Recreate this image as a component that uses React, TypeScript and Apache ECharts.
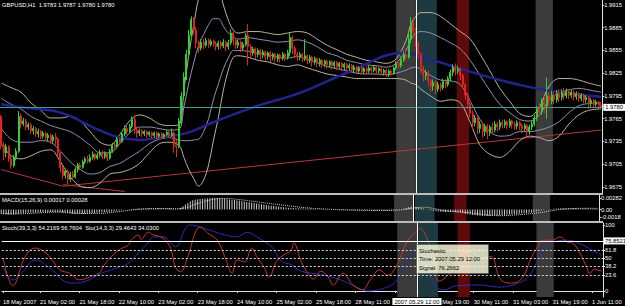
import React, { useEffect, useRef } from "react";
import * as echarts from "echarts";

// ---------- DATA (prices in pips above BASE) ----------
const BASE = 1.97;
const PIP = 0.0001;
const symbolName = "GBPUSD,H1";

// [open, close, low, high] in pips above 1.9700, one row per H1 bar
const candlesPips: number[][] = [
  [68,30,25,70],[30,20,10,35],[20,28,14,32],[28,12,8,30],[12,3,-1,15],[3,14,1,17],[14,22,10,26],[22,68,20,75],
  [68,58,52,72],[58,62,55,66],[62,54,50,65],[54,57,50,60],[57,49,45,59],[49,52,44,55],[52,45,41,54],[45,48,40,52],
  [48,42,38,50],[42,46,39,49],[46,40,36,48],[40,43,35,46],[43,36,32,45],[36,41,33,44],[41,38,30,46],[38,20,16,40],
  [20,0,-6,22],[0,-10,-15,3],[-10,-4,-14,-1],[-4,-15,-22,-2],[-15,-8,-18,-5],[-8,-12,-16,-4],[-12,-2,-14,1],[-2,4,-6,7],
  [4,1,-3,7],[1,8,-1,11],[8,12,5,15],[12,9,6,16],[9,14,7,18],[14,18,11,22],[18,13,10,20],[13,17,11,20],
  [17,20,14,24],[20,15,12,23],[15,19,12,22],[19,13,9,21],[13,22,11,25],[22,30,20,33],[30,28,24,34],[28,38,26,41],
  [38,35,31,40],[35,45,33,48],[45,52,42,56],[52,48,44,55],[48,55,46,58],[55,64,52,68],[64,50,45,70],[50,46,40,53],
  [46,49,42,52],[49,45,41,51],[45,48,42,50],[48,44,40,50],[44,47,41,49],[47,43,39,48],[43,46,40,48],[46,42,38,48],
  [42,45,39,47],[45,41,38,47],[41,44,39,46],[44,47,42,50],[47,43,40,49],[43,46,41,52],[46,30,20,48],[30,28,14,38],
  [28,62,26,66],[62,95,58,100],[95,120,90,126],[120,150,116,156],[150,175,145,182],[175,196,170,200],[196,182,176,199],[182,165,158,186],
  [165,158,152,168],[158,166,155,170],[166,162,157,170],[162,168,159,172],[168,163,158,171],[163,167,160,170],[167,164,160,169],[164,160,155,167],
  [160,165,156,168],[165,161,157,168],[161,166,158,170],[166,160,154,168],[160,165,156,169],[165,178,162,183],[178,168,162,180],[168,162,157,170],
  [162,166,158,169],[166,158,153,168],[158,163,155,166],[163,175,160,178],[175,160,135,190],[160,152,146,163],[152,157,148,160],[157,150,144,159],
  [150,155,146,158],[155,149,143,157],[149,153,145,156],[153,147,142,155],[147,152,143,154],[152,146,140,154],[146,150,142,152],[150,144,139,152],
  [144,149,140,151],[149,145,139,151],[145,150,142,153],[150,146,141,152],[146,152,143,156],[152,172,148,178],[172,158,150,175],[158,150,145,161],
  [150,146,141,153],[146,150,142,153],[150,145,140,152],[145,148,141,170],[148,142,137,150],[142,146,138,149],[146,140,134,148],[140,144,136,147],
  [144,138,133,146],[138,142,134,145],[142,137,132,144],[137,141,133,143],[141,136,131,143],[136,140,132,142],[140,135,130,142],[135,139,131,141],
  [139,134,129,141],[134,138,131,140],[138,133,128,140],[133,137,129,139],[137,132,127,139],[132,135,128,138],[135,130,126,137],[130,133,126,136],
  [133,128,124,135],[128,132,125,134],[132,127,123,134],[127,131,124,133],[131,128,124,134],[128,132,125,135],[132,129,125,134],[129,133,126,136],
  [133,128,124,135],[128,131,125,133],[131,126,122,133],[126,129,122,131],[129,124,120,131],[124,128,120,130],[128,125,121,130],[125,132,123,134],
  [132,138,129,141],[138,135,131,142],[135,143,132,147],[143,150,140,154],[150,146,141,158],[146,170,144,178],[170,192,165,199],[192,180,172,196],
  [180,165,160,185],[165,150,144,168],[150,132,125,153],[132,122,114,135],[122,126,116,130],[126,115,108,129],[115,108,100,118],[108,113,102,117],
  [113,104,97,116],[104,110,100,114],[110,106,101,113],[106,114,103,118],[114,110,105,117],[110,118,107,121],[118,126,114,130],[126,133,121,137],
  [133,128,122,138],[128,131,124,135],[131,122,116,133],[122,110,106,124],[110,96,90,112],[96,84,78,98],[84,72,66,87],[72,60,52,76],
  [60,66,55,70],[66,52,44,68],[52,58,46,62],[58,48,40,60],[48,55,42,58],[55,46,38,58],[46,54,42,57],[54,50,44,60],
  [50,58,47,62],[58,54,48,61],[54,60,50,64],[60,57,52,64],[57,61,53,64],[61,56,51,63],[56,62,53,65],[62,58,52,64],
  [58,55,50,61],[55,60,51,63],[60,56,50,62],[56,52,46,58],[52,56,48,59],[56,48,40,58],[48,54,44,57],[54,58,50,62],
  [58,66,55,70],[66,78,62,82],[78,74,68,85],[74,88,70,92],[88,82,72,95],[82,95,65,119],[95,88,82,100],[88,96,84,102],
  [96,90,84,100],[90,98,86,103],[98,93,87,104],[93,99,89,104],[99,95,90,106],[95,101,92,105],[101,96,91,104],[96,100,92,103],
  [100,94,89,102],[94,98,90,101],[98,92,87,100],[92,96,88,99],[96,90,85,98],[90,93,86,96],[93,85,78,95],[85,89,80,92],
  [89,84,79,91],[84,87,81,90],[87,83,79,89],[83,80,80,87]
];

// MACD(15,26,9) main histogram, in units of 0.00001, one per bar
const macdHist = [
  -110,-115,-118,-120,-122,-120,-115,-100,-90,-85,-80,-78,-75,
  -72,-70,-68,-66,-65,-64,-63,-62,-62,-60,-58,-60,
  -70,-80,-90,-98,-104,-108,-110,-110,-108,-105,-100,-95,-90,-84,-78,-72,
  -68,-64,-60,-55,-48,-40,-32,-24,-16,-8,0,6,12,18,22,24,
  26,27,28,28,28,27,27,26,25,25,24,24,24,18,
  12,20,45,80,120,160,200,225,240,250,258,265,270,274,278,280,282,280,276,270,
  262,254,246,238,230,222,213,204,196,186,176,167,158,148,139,130,121,112,103,95,87,80,72,64,57,50,44,
  40,37,34,31,28,26,24,21,18,15,12,10,8,6,4,2,0,-2,-4,-6,-8,-10,-12,-13,-14,-15,-16,-17,-18,-18,
  -19,-20,-20,-21,-22,-22,-23,-24,-24,-25,-24,-20,-14,
  -6,4,14,28,44,62,70,68,60,48,
  36,24,10,-4,-18,-30,-40,-50,-56,-60,-62,-62,-60,-60,-62,-68,-78,-90,-102,-114,
  -124,-134,-142,-148,-152,-155,-156,-156,-155,-152,
  -148,-144,-140,-136,-131,-126,-121,-116,-111,-106,-101,-96,-92,-88,-80,-70,-58,-46,-34,-22,
  -10,0,8,14,20,24,27,29,30,31,31,31,30,29,28,27,26,25,24,22,20,19,17
];
// MACD signal line [bar, value in 0.00001]
const macdSignal = [
  [0,-100],[8,-105],[16,-80],[24,-63],[32,-95],[40,-95],[48,-50],[56,5],[64,26],[72,20],[76,60],[80,150],
  [84,220],[88,265],[92,272],[96,250],[100,222],[104,190],[108,158],[112,128],[116,98],[120,70],[124,45],
  [128,25],[132,12],[136,0],[140,-10],[144,-16],[148,-19],[152,-22],[156,-23],[160,-20],[164,0],[168,40],
  [172,55],[176,30],[180,-20],[184,-50],[188,-65],[192,-90],[196,-120],[200,-145],[204,-150],[208,-138],
  [212,-120],[216,-100],[220,-70],[224,-30],[228,5],[232,22],[236,29],[240,30],[243,28]
];

// Bollinger-style envelopes read at these bars (pips above 1.9700)
const bandBars = [0,4,8,12,16,20,24,28,32,36,40,44,48,52,56,60,64,68,72,74,76,78,80,82,84,86,88,90,92,94,96,100,104,108,112,116,120,124,128,132,136,140,144,148,152,156,160,164,166,168,170,174,178,182,186,190,194,198,202,206,210,214,218,222,226,230,234,238,243];
const outerUpper = [112,106,100,86,76,66,66,68,62,48,34,30,44,62,70,66,58,56,57,103,149,189,224,240,250,250,240,215,195,182,178,180,180,178,176,178,180,178,170,162,156,150,146,142,140,138,144,168,190,200,205,205,200,190,180,170,150,128,105,88,72,68,80,108,118,118,116,112,108];
const outerLower = [32,16,12,16,22,24,8,-12,-24,-26,-20,-8,-6,-2,6,20,32,34,30,14,-2,-14,-24,-16,4,37,67,103,129,146,148,146,142,140,136,134,136,132,128,124,122,120,118,118,118,118,118,116,112,110,104,95,88,90,86,60,30,18,14,22,36,42,40,36,42,58,70,76,78];
const innerUpper = [92,84,78,68,62,56,52,48,40,30,20,20,32,46,54,54,52,50,51,80,112,139,162,176,189,197,197,187,178,173,170,172,170,168,166,167,169,166,160,152,148,142,139,136,135,133,138,155,170,178,180,178,172,165,157,142,122,102,84,73,64,62,70,90,99,103,105,103,100];
const innerLower = [52,38,34,34,36,34,22,8,-2,-8,-6,2,6,14,22,32,38,40,37,36,36,37,38,48,65,91,111,131,145,155,155,154,151,150,146,145,147,143,139,134,131,128,125,124,124,123,125,129,132,133,130,122,116,115,110,88,64,48,42,43,48,48,50,54,61,73,82,85,86];
// slow moving average [bar, pips]
const maSlow = [[0,84],[8,80],[24,73],[37,54],[47,41],[56,37],[64,40],[75,46],[85,59],[102,80],[121,99],[141,127],[163,152],[175,142],[188,129],[202,116],[215,106],[226,100],[243,94]];
// trend lines [bar, pips]
const trendLines = [
  [[0,-2],[25,-24]],
  [[25,-24],[243,50]],
  [[25,-22],[50,-31]]
];
const hLinePrice = 1.978;

// Stochastics [bar, value]
const sto14 = [[0,50],[4,8],[9,52],[13,65],[17,59],[20,47],[23,32],[27,27],[31,17],[35,21],[39,27],[41,39],[44,52],[47,62],[51,70],[52,77],[55,85],[56,78],[59,89],[61,85],[65,80],[68,65],[70,36],[72,29],[75,52],[78,88],[80,97],[83,88],[87,77],[90,52],[93,27],[95,47],[98,44],[101,65],[103,52],[106,36],[108,21],[111,45],[114,55],[117,62],[118,73],[121,45],[124,25],[126,18],[129,30],[132,21],[134,9],[138,27],[142,9],[146,2],[149,17],[153,32],[156,24],[158,28],[161,48],[164,75],[167,88],[169,95],[172,80],[175,40],[177,15],[182,30],[186,55],[190,60],[194,50],[198,52],[202,17],[207,12],[211,21],[214,47],[217,67],[219,77],[223,77],[226,82],[229,74],[231,73],[234,58],[237,35],[238,26],[240,33],[242,31],[243,30]];
const stoch39 = [[0,36],[4,17],[8,29],[13,47],[20,32],[24,17],[28,12],[33,14],[40,27],[44,32],[51,42],[55,58],[59,73],[61,82],[65,82],[70,67],[74,95],[76,100],[84,92],[90,85],[95,82],[99,89],[103,82],[109,67],[113,45],[117,40],[121,30],[129,25],[137,17],[144,5],[148,0],[156,6],[160,17],[165,55],[169,60],[171,40],[174,20],[176,6],[179,2],[184,8],[194,9],[201,6],[207,9],[213,21],[217,47],[219,67],[223,74],[229,77],[234,72],[239,62],[243,54]];
const stochLevels = [23.6, 38.2, 50, 61.8];

// axes
const priceTicks = [1.9675, 1.9705, 1.9735, 1.9765, 1.9795, 1.9825, 1.9855, 1.9885, 1.9915];
const macdTicks = [-0.0018, 0, 0.00282];
const macdTickTexts = ["-0.0018", "0.00", "0.00282"];
const stochTicks = [0, 23.6, 38.2, 50, 61.8, 100];
const xTickBars = [0, 15, 31, 47, 63, 79, 95, 111, 127, 143, 159, 175, 191, 207, 223, 239];
// the 29 May 03:00 label is hidden under the crosshair time box in the reference
const xLabelBars = [0, 15, 31, 47, 63, 79, 95, 111, 127, 143, 175, 191, 207, 223, 239];
const xLabelTexts = ["18 May 2007", "21 May 02:00", "21 May 18:00", "22 May 10:00", "23 May 02:00", "23 May 18:00", "24 May 10:00", "25 May 02:00", "25 May 18:00", "28 May 11:00", "29 May 19:00", "30 May 11:00", "31 May 03:00", "31 May 19:00", "1 Jun 11:00"];

// highlighted time ranges [fromBar, toBar]
const sessionRanges = [[160, 168], [168.5, 176.5], [184.5, 189.5], [216.5, 223.5]];
// crosshair
const crossBar = 168;
const crossTime = "2007.05.29 12:00";
const crossStochValue = 75.8521;
const tipSignal = 76.2662;

const macdLabel = "MACD(15,26,9) 0.00017 0.00028";
const stochLabel = "Stoch(39,3,3) 54.2169 56.7604  Sto(14,3,3) 29.4643 34.0300";

// ---------- STYLE ----------
const FONT = "Liberation Sans";
const FS = 5.8;
const sessionColors = ["#3b3b3b", "#1d3a41", "#5e0a0a", "#3b3b3b"];

const toPrice = (k: number) => +(BASE + k * PIP).toFixed(5);

function buildOption() {
  const N = candlesPips.length;
  const cats = candlesPips.map((_, i) => String(i));
  const labelSet = new Set(xLabelBars);
  const tickSet = new Set(xTickBars);
  const W = 603;

  const last = candlesPips[N - 1];
  const title = `${symbolName}  ${toPrice(last[0]).toFixed(4)} ${toPrice(last[3]).toFixed(4)} ${toPrice(last[2]).toFixed(4)} ${toPrice(last[1]).toFixed(4)}`;

  const catAxis = (g: number, show: boolean) => ({
    type: "category", gridIndex: g, data: cats, boundaryGap: true,
    axisLine: { show, lineStyle: { color: "#e0e0e0", width: 1 } },
    axisTick: { show, alignWithLabel: true, interval: (i: number) => tickSet.has(i), length: 2, lineStyle: { color: "#e0e0e0" } },
    axisLabel: {
      show, interval: (i: number) => labelSet.has(i),
      formatter: (_v: string, i: number) => xLabelTexts[xLabelBars.indexOf(i)] ?? "",
      align: "left", color: "#ffffff", fontSize: FS, fontFamily: FONT, margin: 2,
    },
    splitLine: { show: false },
  });
  const valAxis = (g: number) => ({ type: "value", gridIndex: g, min: -0.5, max: N - 0.5, show: false });
  const rightAxisBase = {
    position: "right",
    axisLine: { show: true, onZero: false, lineStyle: { color: "#e0e0e0" } },
    splitLine: { show: false },
  };

  const sessionArea = {
    silent: true,
    data: sessionRanges.map((r, i) => [
      { xAxis: r[0], itemStyle: { color: sessionColors[i], opacity: 1 } },
      { xAxis: r[1] },
    ]),
  };
  const bgSeries = (g: number, yIdx: number, yVal: number, extra: any = {}) => ({
    type: "line", xAxisIndex: g * 2 + 1, yAxisIndex: yIdx, z: 1, silent: true,
    data: [[-5, yVal]], showSymbol: false, lineStyle: { opacity: 0 },
    markArea: sessionArea, ...extra,
  });
  const crossLine = {
    symbol: "none", silent: true, precision: 6,
    lineStyle: { color: "#ffffff", width: 1, type: "solid" },
  };

  const lineSer = (g: number, pts: number[][], color: string, width: number, smooth: number | boolean, z = 2, type = "solid") => ({
    type: "line", xAxisIndex: g * 2 + 1, yAxisIndex: g, data: pts, showSymbol: false, smooth, z, silent: true,
    lineStyle: { color, width, type },
  });

  const bandPts = (arr: number[]) => bandBars.map((b, i) => [b, toPrice(arr[i])]);

  return {
    animation: false,
    backgroundColor: "#000000",
    grid: [
      { left: 0, top: 0, width: W, height: 193 },
      { left: 0, top: 195, width: W, height: 26 },
      { left: 0, top: 223, width: W, height: 74 },
    ],
    xAxis: [catAxis(0, false), valAxis(0), catAxis(1, false), valAxis(1), catAxis(2, true), valAxis(2)],
    yAxis: [
      {
        type: "value", gridIndex: 0, min: 1.9667, max: 1.99216, ...rightAxisBase,
        axisTick: { show: true, customValues: priceTicks, length: 2, lineStyle: { color: "#e0e0e0" } },
        axisLabel: { customValues: priceTicks, formatter: (v: number) => v.toFixed(4), color: "#fff", fontSize: FS, fontFamily: FONT, margin: 2 },
      },
      {
        type: "value", gridIndex: 1, min: -0.0028, max: 0.00355, ...rightAxisBase,
        axisTick: { show: true, customValues: macdTicks, length: 2, lineStyle: { color: "#e0e0e0" } },
        axisLabel: { customValues: macdTicks, formatter: (v: number) => macdTickTexts[macdTicks.findIndex((t) => Math.abs(t - v) < 1e-7)] ?? "", color: "#fff", fontSize: FS, fontFamily: FONT, margin: 2 },
      },
      {
        type: "value", gridIndex: 2, min: -9.1, max: 103, ...rightAxisBase,
        axisTick: { show: true, customValues: stochTicks, length: 2, lineStyle: { color: "#e0e0e0" } },
        axisLabel: { customValues: stochTicks, formatter: (v: number) => String(v), color: "#fff", fontSize: FS, fontFamily: FONT, margin: 2 },
      },
    ],
    series: [
      // ---- main window ----
      bgSeries(0, 0, 1.97),
      ...trendLines.map((tl) => lineSer(0, tl.map((p) => [p[0], toPrice(p[1])]), "#b53a3a", 1, false)),
      {
        type: "line", xAxisIndex: 1, yAxisIndex: 0, data: [[-5, 1.97]], showSymbol: false, z: 2, silent: true,
        color: "#4a9a8f",
        lineStyle: { opacity: 0 },
        markLine: {
          symbol: "none", silent: true, precision: 6,
          lineStyle: { color: "#4a9a8f", width: 1, type: "solid", opacity: 1 },
          emphasis: { disabled: true },
          data: [{
            yAxis: hLinePrice,
            label: { show: true, position: "end", distance: 1, formatter: (p: any) => Number(p.value).toFixed(4), backgroundColor: "#ffffff", color: "#000", padding: [1, 2, 0, 2], fontSize: FS, fontFamily: FONT },
          }],
        },
      },
      lineSer(0, bandPts(outerUpper), "#b9b29c", 1, 0.35),
      lineSer(0, bandPts(outerLower), "#b9b29c", 1, 0.35),
      lineSer(0, bandPts(innerUpper), "#948eb2", 1, 0.35),
      lineSer(0, bandPts(innerLower), "#948eb2", 1, 0.35),
      lineSer(0, maSlow.map((p) => [p[0], toPrice(p[1])]), "#23238f", 2.5, 0.4),
      {
        type: "candlestick", xAxisIndex: 0, yAxisIndex: 0, z: 3, silent: true, barWidth: 1.5,
        data: candlesPips.map((c) => c.map(toPrice)),
        itemStyle: { color: "#2fd02f", color0: "#e02222", borderColor: "#2fd02f", borderColor0: "#e02222", borderWidth: 1 },
      },
      {
        type: "line", xAxisIndex: 1, yAxisIndex: 0, data: [[-5, 1.97]], showSymbol: false, z: 6, silent: true, lineStyle: { opacity: 0 },
        markLine: { ...crossLine, data: [{ xAxis: crossBar, label: { show: false } }] },
      },
      // ---- MACD window ----
      bgSeries(1, 1, 0),
      {
        type: "bar", xAxisIndex: 2, yAxisIndex: 1, barWidth: 1, silent: true, z: 2,
        data: macdHist.map((v) => v * 1e-5), itemStyle: { color: "#c8c8c8" },
      },
      lineSer(1, macdSignal.map((p) => [p[0], p[1] * 1e-5]), "#d0d0d0", 1, 0.3, 3, "dotted"),
      {
        type: "line", xAxisIndex: 3, yAxisIndex: 1, data: [[-5, 0]], showSymbol: false, z: 6, silent: true, lineStyle: { opacity: 0 },
        markLine: { ...crossLine, data: [{ xAxis: crossBar, label: { show: false } }] },
      },
      // ---- Stochastic window ----
      bgSeries(2, 2, 0, {
        markLine: {
          symbol: "none", silent: true, precision: 6,
          lineStyle: { color: "#d8d8d8", width: 1, type: [2, 2] },
          label: { show: false },
          data: stochLevels.map((v) => ({ yAxis: v })),
        },
      }),
      lineSer(2, stoch39, "#2d2db4", 1, 0.4),
      lineSer(2, sto14, "#c0392b", 1, 0.4),
      {
        type: "line", xAxisIndex: 5, yAxisIndex: 2, data: [[-5, 0]], showSymbol: false, z: 6, silent: true, lineStyle: { opacity: 0 },
        markLine: {
          ...crossLine,
          data: [
            { xAxis: crossBar, label: { show: true, position: "start", distance: 1, formatter: () => crossTime, backgroundColor: "#ffffff", color: "#000", padding: [1, 2, 0, 2], fontSize: FS, fontFamily: FONT } },
            { yAxis: crossStochValue, label: { show: true, position: "end", distance: 1, formatter: (p: any) => Number(p.value).toFixed(4), backgroundColor: "#ffffff", color: "#000", padding: [1, 1, 0, 1], fontSize: FS, fontFamily: FONT } },
          ],
        },
      },
    ],
    graphic: [
      { type: "text", x: 2, y: 5, z: 100, style: { text: title, fill: "#ffffff", fontSize: FS, fontFamily: FONT, verticalAlign: "middle" } },
      { type: "text", x: 2, y: 200, z: 100, style: { text: macdLabel, fill: "#ffffff", fontSize: FS, fontFamily: FONT, verticalAlign: "middle" } },
      { type: "text", x: 2, y: 228, z: 100, style: { text: stochLabel, fill: "#ffffff", fontSize: FS, fontFamily: FONT, verticalAlign: "middle" } },
      { type: "line", z: 100, shape: { x1: 0, y1: 194, x2: 603, y2: 194 }, style: { stroke: "#bdbdbd", lineWidth: 2 } },
      { type: "line", z: 100, shape: { x1: 0, y1: 222, x2: 603, y2: 222 }, style: { stroke: "#bdbdbd", lineWidth: 2 } },
      {
        type: "group", z: 100,
        children: [
          { type: "rect", z: 100, shape: { x: 416.5, y: 244.5, width: 72, height: 29 }, style: { fill: "rgba(255,255,225,0.82)", stroke: "#555", lineWidth: 0.6 } },
          { type: "text", z: 101, x: 419, y: 250.5, style: { text: "Stochastic", fill: "#000", fontSize: FS, fontFamily: FONT, verticalAlign: "middle" } },
          { type: "text", z: 101, x: 419, y: 259, style: { text: `Time: ${crossTime}`, fill: "#000", fontSize: FS, fontFamily: FONT, verticalAlign: "middle" } },
          { type: "text", z: 101, x: 419, y: 267.5, style: { text: `Signal: ${tipSignal.toFixed(4)}`, fill: "#000", fontSize: FS, fontFamily: FONT, verticalAlign: "middle" } },
        ],
      },
    ],
  };
}

export default function App() {
  const ref = useRef<HTMLDivElement>(null);
  useEffect(() => {
    if (!ref.current) return;
    const chart = echarts.init(ref.current, null, { renderer: "svg" });
    chart.setOption(buildOption() as any);
    return () => chart.dispose();
  }, []);
  return (
    <div
      ref={ref}
      style={{ position: "fixed", left: 0, top: 0, width: 625, height: 306, background: "#000" }}
    />
  );
}
